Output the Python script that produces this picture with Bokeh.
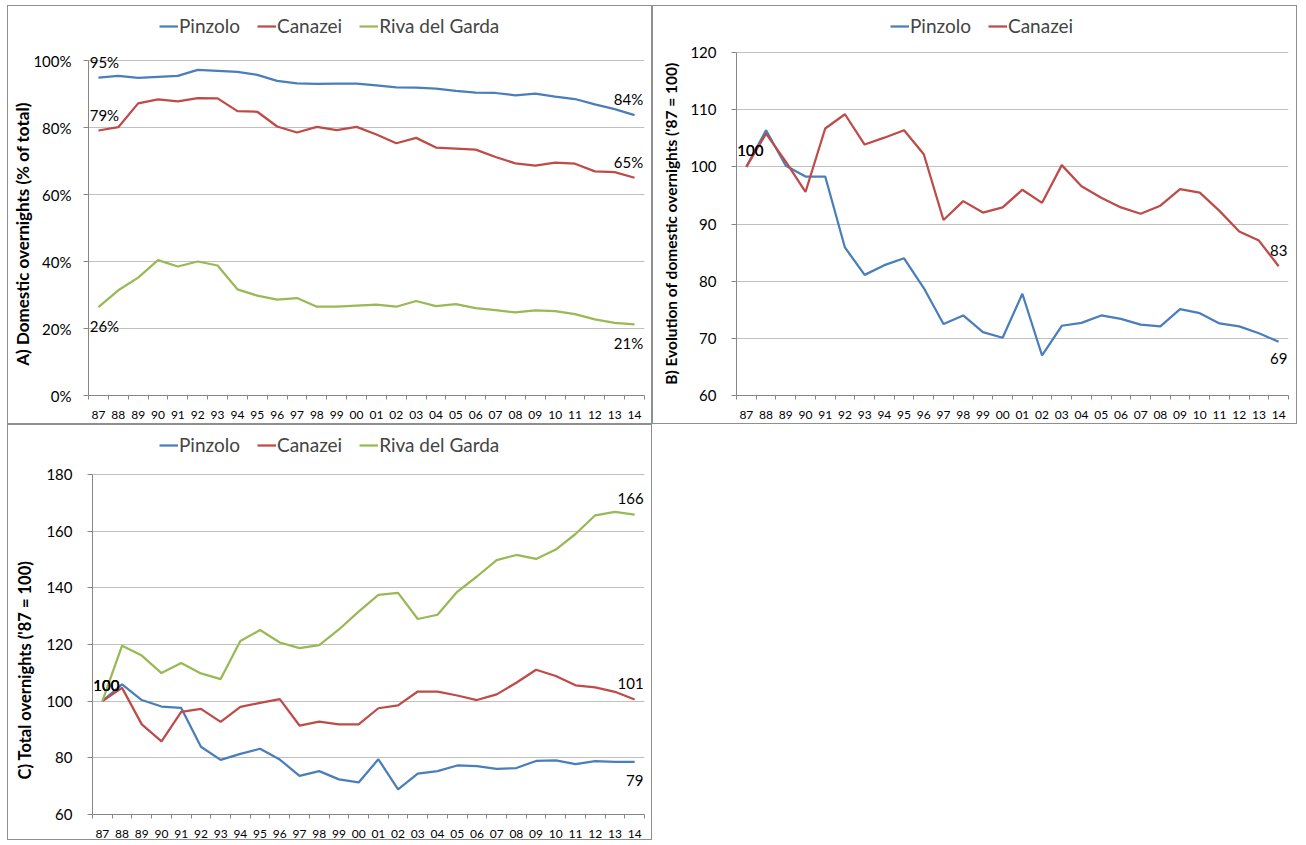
from bokeh.plotting import figure
from bokeh.models import (Legend, LegendItem, FixedTicker, PrintfTickFormatter,
                          Range1d, Label)
from bokeh.layouts import column, row
from bokeh.embed import file_html
from bokeh.resources import INLINE

# ---- data ---------------------------------------------------------------
years = ["87", "88", "89", "90", "91", "92", "93", "94", "95", "96", "97", "98", "99", "00",
         "01", "02", "03", "04", "05", "06", "07", "08", "09", "10", "11", "12", "13", "14"]

# A) domestic overnights as % of total
dom_share_pinzolo = [94.9, 95.4, 94.8, 95.1, 95.4, 97.2, 96.9, 96.6, 95.7, 93.9, 93.2, 93.0, 93.1, 93.1,
                     92.6, 92.0, 91.9, 91.6, 90.9, 90.4, 90.3, 89.6, 90.1, 89.2, 88.5, 86.9, 85.5, 83.7]
dom_share_canazei = [79.1, 80.1, 87.2, 88.4, 87.8, 88.8, 88.7, 84.9, 84.7, 80.3, 78.5, 80.2, 79.2, 80.2,
                     77.9, 75.3, 76.9, 74.0, 73.7, 73.4, 71.2, 69.3, 68.6, 69.5, 69.2, 66.9, 66.7, 65.0]
dom_share_riva = [26.4, 31.4, 35.2, 40.4, 38.5, 40.0, 38.8, 31.7, 29.8, 28.6, 29.1, 26.5, 26.5, 26.8,
                  27.1, 26.5, 28.2, 26.7, 27.3, 26.1, 25.5, 24.8, 25.4, 25.2, 24.3, 22.7, 21.7, 21.2]

# B) domestic overnights, index '87 = 100
dom_index_pinzolo = [100.0, 106.4, 100.2, 98.3, 98.3, 85.9, 81.1, 82.8, 84.0, 78.8, 72.5, 74.0, 71.1, 70.1,
                     77.8, 67.0, 72.2, 72.7, 74.0, 73.4, 72.4, 72.1, 75.1, 74.4, 72.6, 72.1, 70.9, 69.4]
dom_index_canazei = [100.0, 105.8, 100.9, 95.6, 106.7, 109.2, 103.9, 105.1, 106.4, 102.2, 90.7, 94.0, 92.0, 92.9,
                     96.0, 93.7, 100.3, 96.6, 94.6, 92.9, 91.8, 93.2, 96.1, 95.5, 92.3, 88.7, 87.1, 82.6]

# C) total overnights, index '87 = 100
tot_index_pinzolo = [100.0, 105.9, 100.4, 98.1, 97.6, 83.9, 79.3, 81.4, 83.2, 79.4, 73.6, 75.3, 72.4, 71.3,
                     79.5, 68.9, 74.4, 75.3, 77.3, 77.1, 76.1, 76.4, 78.9, 79.1, 77.8, 78.8, 78.6, 78.6]
tot_index_canazei = [100.0, 104.7, 91.8, 85.8, 96.2, 97.3, 92.7, 98.0, 99.4, 100.7, 91.4, 92.8, 91.8, 91.8,
                     97.5, 98.5, 103.4, 103.4, 102.0, 100.4, 102.4, 106.5, 111.1, 108.9, 105.6, 104.9, 103.3, 100.6]
tot_index_riva = [100.0, 119.6, 116.1, 109.9, 113.5, 109.8, 107.8, 121.2, 125.1, 120.7, 118.7, 119.8, 125.3, 131.6,
                  137.5, 138.2, 129.0, 130.5, 138.6, 144.0, 149.8, 151.6, 150.2, 153.5, 159.0, 165.6, 166.8, 165.8]

# ---- styling ------------------------------------------------------------
BLUE, RED, GREEN = "#4a7ebb", "#be4b48", "#98b954"
FONT = "Lato"
AXIS_GREY = "#868686"
GRID_GREY = "#c0c0c0"
BORDER = "1px solid #8f8f8f"
NBSP = "\u00a0"

xs = list(range(len(years)))


def panel(width, height, borders, y_lo, y_hi, y_step, fmt, ylabel, title_size, title_pad,
          title_standoff, series, labels, legend_x, label_standoff):
    left, right, top, bottom = borders
    # the frame reaches the top of the canvas so the legend above the data fits in it;
    # the y range is stretched so the top tick keeps its place
    y_end = y_hi + (y_hi - y_lo) * top / (height - top - bottom)
    p = figure(width=width, height=height, output_backend="svg", toolbar_location=None,
               x_range=Range1d(-0.5, len(years) - 0.5), y_range=Range1d(y_lo, y_end),
               min_border_left=left, min_border_right=right,
               min_border_top=0, min_border_bottom=bottom)
    p.outline_line_color = None
    p.background_fill_color = "white"
    p.border_fill_color = "white"
    p.xgrid.visible = False
    p.ygrid.grid_line_color = GRID_GREY
    p.ygrid.grid_line_width = 1

    # category axis: labels at the centres, ticks between categories
    p.xaxis.ticker = FixedTicker(ticks=xs, minor_ticks=[i - 0.5 for i in range(len(years) + 1)])
    p.xaxis.major_label_overrides = {i: y for i, y in enumerate(years)}
    p.xaxis.major_tick_out = 0
    p.xaxis.major_tick_in = 0
    p.xaxis.minor_tick_out = 4
    p.xaxis.minor_tick_in = 0
    p.xaxis.minor_tick_line_color = AXIS_GREY
    p.xaxis.axis_line_color = AXIS_GREY
    p.xaxis.major_label_text_font = FONT
    p.xaxis.major_label_text_font_size = "12px"
    p.xaxis.major_label_text_color = "black"
    p.xaxis.major_label_standoff = 11

    p.yaxis.ticker = FixedTicker(ticks=list(range(y_lo, y_hi + 1, y_step)))
    p.yaxis.bounds = (y_lo, y_hi)
    p.yaxis.formatter = PrintfTickFormatter(format=fmt)
    p.yaxis.major_tick_out = 5
    p.yaxis.major_tick_in = 0
    p.yaxis.minor_tick_line_color = None
    p.yaxis.axis_line_color = AXIS_GREY
    p.yaxis.major_tick_line_color = AXIS_GREY
    p.yaxis.major_label_text_font = FONT
    p.yaxis.major_label_text_font_size = "15px"
    p.yaxis.major_label_text_color = "black"
    p.yaxis.major_label_standoff = label_standoff

    # vertical title; trailing non-breaking spaces slide it down along the axis
    p.yaxis.axis_label = ylabel + NBSP * title_pad
    p.yaxis.axis_label_text_font = FONT
    p.yaxis.axis_label_text_font_style = "bold"
    p.yaxis.axis_label_text_font_size = title_size
    p.yaxis.axis_label_text_color = "black"
    p.yaxis.axis_label_standoff = title_standoff

    items = []
    for name, vals, color in series:
        r = p.line(xs, vals, line_color=color, line_width=2.25)
        items.append(LegendItem(label=name, renderers=[r]))

    legend = Legend(items=items, orientation="horizontal", location=(legend_x, 358),
                    padding=0, margin=0, spacing=17, label_standoff=1,
                    glyph_width=19, glyph_height=20, label_height=20,
                    label_text_font=FONT, label_text_font_size="19px",
                    border_line_color=None, background_fill_alpha=0)
    p.add_layout(legend)

    # value labels on first and last points
    for x, y, text, dx, dy in labels:
        p.add_layout(Label(x=x, y=y, text=text, x_offset=dx, y_offset=dy,
                           text_font=FONT, text_font_size="15px", text_color="black",
                           text_align="center", text_baseline="middle"))
    p.styles = {"border": BORDER}
    return p


def pct(v):
    return f"{round(v)}%"


def num(v):
    return f"{round(v)}"


last = len(years) - 1
UP, DOWN = 16, -19

pA = panel(645, 419, (80, 9, 54, 30), 0, 100, 20, "%d%%",
           "A) Domestic overnights (% of total)", "17px", 16, -3,
           [("Pinzolo", dom_share_pinzolo, BLUE), ("Canazei", dom_share_canazei, RED),
            ("Riva del Garda", dom_share_riva, GREEN)],
           [(0, dom_share_pinzolo[0], pct(dom_share_pinzolo[0]), 6, UP),
            (0, dom_share_canazei[0], pct(dom_share_canazei[0]), 6, UP),
            (0, dom_share_riva[0], pct(dom_share_riva[0]), 6, DOWN),
            (last, dom_share_pinzolo[last], pct(dom_share_pinzolo[last]), -6, UP),
            (last, dom_share_canazei[last], pct(dom_share_canazei[last]), -6, UP),
            (last, dom_share_riva[last], pct(dom_share_riva[last]), -6, DOWN)],
           71, 12)

pB = panel(645, 419, (83, 10, 46, 30), 60, 120, 10, "%d",
           "B) Evolution of domestic overnights ('87 = 100)", "15.5px", 12, 7,
           [("Pinzolo", dom_index_pinzolo, BLUE), ("Canazei", dom_index_canazei, RED)],
           [(0, dom_index_pinzolo[0], num(dom_index_pinzolo[0]), 4, UP),
            (0, dom_index_canazei[0], num(dom_index_canazei[0]), 4, UP),
            (last, dom_index_pinzolo[last], num(dom_index_pinzolo[last]), 0, DOWN + 2),
            (last, dom_index_canazei[last], num(dom_index_canazei[last]), 0, UP)],
           154, 15)

pC = panel(645, 416, (84, 9, 49, 27), 60, 180, 20, "%d",
           "C) Total overnights ('87 = 100)", "16.5px", 25, 8,
           [("Pinzolo", tot_index_pinzolo, BLUE), ("Canazei", tot_index_canazei, RED),
            ("Riva del Garda", tot_index_riva, GREEN)],
           [(0, tot_index_pinzolo[0], num(tot_index_pinzolo[0]), 4, UP),
            (0, tot_index_canazei[0], num(tot_index_canazei[0]), 4, UP),
            (0, tot_index_riva[0], num(tot_index_riva[0]), 4, UP),
            (last, tot_index_pinzolo[last], num(tot_index_pinzolo[last]), 0, DOWN),
            (last, tot_index_canazei[last], num(tot_index_canazei[last]), -4, UP),
            (last, tot_index_riva[last], num(tot_index_riva[last]), -4, UP)],
           67, 15)

pA.margin = (5, 0, 0, 7)
pB.margin = (5, 0, 0, 0)
pC.margin = (0, 0, 0, 7)

layout = column(row(pA, pB), pC)

with open("out.html", "w") as f:
    f.write(file_html(layout, INLINE))
